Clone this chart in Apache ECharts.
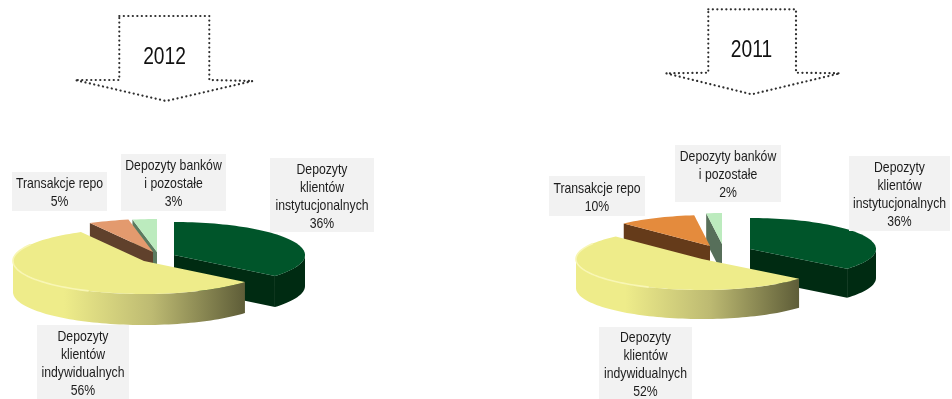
<!DOCTYPE html>
<html>
<head>
<meta charset="utf-8">
<style>html,body{margin:0;padding:0;background:#fff}#chart{width:952px;height:399px}</style>
<script src="https://cdn.jsdelivr.net/npm/echarts@6/dist/echarts.min.js"></script>
</head>
<body>
<div id="chart"></div>
<script>
// Deposit structure by client group, one exploded pseudo-3D pie per year.
const categories = [
  'Depozyty\nklientów\ninstytucjonalnych',
  'Depozyty\nklientów\nindywidualnych',
  'Transakcje repo',
  'Depozyty banków\ni pozostałe'
];
const values2012 = [36, 56, 5, 3];
const values2011 = [36, 52, 10, 2];

const FONT = '"Liberation Sans", Arial, sans-serif';
const NARROW = 0.815;
const yellowRim = [[0, '#EEEC8A'], [0.22, '#EEEC8A'], [0.6, '#BDBA72'], [1, '#5E5D38']];

// Geometry of each pie: slice apexes (exploded), label boxes, drawing order back to front.
const pies = [
  {
    year: '2012', values: values2012, rx: 131, ry: 33, depth: 31,
    apex: [[174, 255], [144, 261], [153, 252], [157, 252]],
    boxes: [[270, 158, 104, 74], [37, 325, 92, 74], [12, 172, 95, 39], [121, 154, 105, 57]],
    top: ['#00552A', '#EEEC8A', '#E39A6E', '#BCEBBE'],
    side: ['#002B12', null, '#60412C', '#5B7B60'],
    layer: [2, 3, 1, 0]
  },
  {
    year: '2011', values: values2011, rx: 126, ry: 31, depth: 29,
    apex: [[750, 249], [702, 259], [710, 246], [722, 244]],
    boxes: [[849, 156, 101, 75], [599, 327, 93, 72], [549, 176, 96, 40], [675, 145, 106, 57]],
    top: ['#00552A', '#EEEC8A', '#E48B3D', '#BCEBBE'],
    side: ['#002B12', null, '#653B1A', '#576F5A'],
    layer: [2, 3, 1, 0]
  }
];

// Clockwise from twelve o'clock, in degrees, on the flattened disc.
function rimPoint(pie, cx, cy, deg) {
  const a = deg * Math.PI / 180;
  return [cx + pie.rx * Math.sin(a), cy - pie.ry * Math.cos(a)];
}
function arcPoints(pie, cx, cy, from, to) {
  const pts = [];
  const n = Math.max(2, Math.ceil((to - from) / 2));
  for (let i = 0; i <= n; i++) pts.push(rimPoint(pie, cx, cy, from + (to - from) * i / n));
  return pts;
}
const drop = (pts, d) => pts.map(p => [p[0], p[1] + d]);

function sliceElements(pie, i, start, end) {
  const [cx, cy] = pie.apex[i];
  const base = pie.layer[i] * 10;
  const els = [];
  const sideFill = pie.side[i];
  const addCut = deg => {
    const edge = [[cx, cy], rimPoint(pie, cx, cy, deg)];
    els.push({
      type: 'polygon', z2: base + 1, silent: true,
      shape: { points: edge.concat(drop(edge, pie.depth).reverse()) },
      style: { fill: sideFill || '#8C8A55' }
    });
  };
  if (Math.sin(start * Math.PI / 180) < -1e-6) addCut(start);
  if (Math.sin(end * Math.PI / 180) > 1e-6) addCut(end);

  // Outer wall, only where the rim faces the viewer.
  const a0 = Math.max(start, 90), a1 = Math.min(end, 270);
  if (a1 > a0) {
    const arc = arcPoints(pie, cx, cy, a0, a1);
    const xs = arc.map(p => p[0]);
    const fill = sideFill || {
      type: 'linear', global: true,
      x: Math.min(...xs), y: 0, x2: Math.max(...xs), y2: 0,
      colorStops: yellowRim.slice().map(s => ({ offset: s[0], color: s[1] }))
    };
    els.push({
      type: 'polygon', z2: base + 2, silent: true,
      shape: { points: arc.concat(drop(arc, pie.depth).reverse()) },
      style: { fill }
    });
  }

  els.push({
    type: 'polygon', z2: base + 3, silent: true,
    shape: { points: [[cx, cy]].concat(arcPoints(pie, cx, cy, start, end)) },
    style: { fill: pie.top[i] }
  });

  // Soft highlight along the rim of the largest slice.
  if (!sideFill) {
    els.push({
      type: 'polyline', z2: base + 4, silent: true,
      shape: { points: arcPoints(pie, cx, cy, Math.max(start, 205), Math.min(end, 300)) },
      style: { fill: 'none', stroke: '#F8F6B4', lineWidth: 1.6 }
    });
  }
  return els;
}

function labelElements(pie, i, value) {
  const [x, y, w, h] = pie.boxes[i];
  return [
    { type: 'rect', z2: 50, silent: true, shape: { x, y, width: w, height: h }, style: { fill: '#F2F2F2' } },
    {
      type: 'text', z2: 51, silent: true, x: x + w / 2, y: y + h / 2 + 1.5, scaleX: NARROW,
      style: {
        text: categories[i] + '\n' + value + '%',
        font: '15px ' + FONT, lineHeight: 18,
        align: 'center', verticalAlign: 'middle', fill: '#1C1C1C'
      }
    }
  ];
}

function pieSeries(pie) {
  const total = pie.values.reduce((a, b) => a + b, 0);
  return {
    type: 'custom',
    name: pie.year,
    coordinateSystem: 'none',
    silent: true,
    clip: false,
    data: pie.values.map(v => [v]),
    renderItem(params, api) {
      const i = params.dataIndex;
      const before = pie.values.slice(0, i).reduce((a, b) => a + b, 0);
      const start = before / total * 360;
      const end = start + api.value(0) / total * 360;
      return {
        type: 'group',
        children: sliceElements(pie, i, start, end).concat(labelElements(pie, i, api.value(0)))
      };
    }
  };
}

// Dotted block arrows carrying the year captions.
const arrowOutlines = [
  [[119.3, 16], [209.3, 16], [209.3, 80], [252.7, 81], [166, 101], [75, 80], [119.3, 80]],
  [[708.3, 9.3], [796, 9.3], [796, 72.7], [840, 73.3], [751.7, 94.3], [666, 73.3], [708.3, 72.7]]
];
const arrowCaptions = [[164.5, 57.5], [751.5, 50.5]];

const graphic = [];
pies.forEach((pie, k) => {
  graphic.push({
    type: 'polygon', silent: true,
    shape: { points: arrowOutlines[k] },
    style: { fill: 'none', stroke: '#2E2E2E', lineWidth: 2.2, lineDash: [0.1, 4.4], lineCap: 'round' }
  });
  graphic.push({
    type: 'text', silent: true, x: arrowCaptions[k][0], y: arrowCaptions[k][1], scaleX: 0.8,
    style: {
      text: pie.year, font: '24px ' + FONT,
      align: 'center', verticalAlign: 'middle', fill: '#111'
    }
  });
});

const chart = echarts.init(document.getElementById('chart'));
chart.setOption({
  animation: false,
  backgroundColor: '#fff',
  graphic,
  series: pies.map(pieSeries)
});
</script>
</body>
</html>
